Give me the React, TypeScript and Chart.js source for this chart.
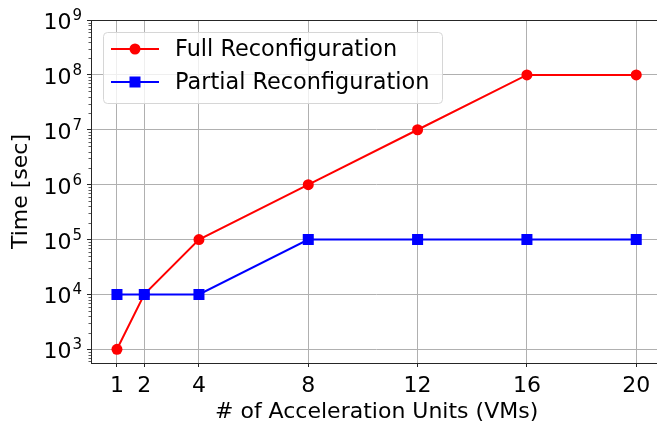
import React, { useEffect, useRef } from 'react';
import { Chart, registerables } from 'chart.js';

Chart.register(...registerables);

const units = [1, 2, 4, 8, 12, 16, 20];
const fullReconfig = [1e3, 1e4, 1e5, 1e6, 1e7, 1e8, 1e8];
const partialReconfig = [1e4, 1e4, 1e4, 1e5, 1e5, 1e5, 1e5];
const xTicks = [1, 2, 4, 8, 12, 16, 20];
const yTicks = [1e3, 1e4, 1e5, 1e6, 1e7, 1e8, 1e9];
const seriesLabels = ['Full Reconfiguration', 'Partial Reconfiguration'];
const xTitle = '# of Acceleration Units (VMs)';
const yTitle = 'Time [sec]';

const FONT = "'DejaVu Sans', sans-serif";
const FS = 22;

const framePlugin = {
  id: 'frame',
  afterDraw(chart: any) {
    const { ctx, chartArea: a, scales } = chart;
    const y = scales.y;
    ctx.save();
    // minor ticks on y
    ctx.strokeStyle = '#333';
    ctx.lineWidth = 0.8;
    for (let e = 2; e <= 9; e++) {
      for (let k = 2; k <= 9; k++) {
        const v = k * Math.pow(10, e);
        if (v < y.min || v > y.max) continue;
        const py = Math.round(y.getPixelForValue(v)) + 0.5;
        ctx.beginPath();
        ctx.moveTo(a.left, py);
        ctx.lineTo(a.left - 2.5, py);
        ctx.stroke();
      }
    }
    // y tick labels: 10 with superscript exponent
    ctx.fillStyle = '#000';
    ctx.textBaseline = 'alphabetic';
    yTicks.forEach((v) => {
      const py = y.getPixelForValue(v);
      const exp = String(Math.round(Math.log10(v)));
      ctx.font = `${Math.round(FS * 0.7)}px ${FONT}`;
      const ew = ctx.measureText(exp).width;
      const right = a.left - 9;
      ctx.textAlign = 'left';
      ctx.fillText(exp, right - ew, py);
      ctx.font = `${FS}px ${FONT}`;
      ctx.textAlign = 'right';
      ctx.fillText('10', right - ew - 1, py + 9);
    });
    // frame
    ctx.strokeStyle = '#262626';
    ctx.lineWidth = 1;
    ctx.strokeRect(Math.round(a.left) + 0.5, Math.round(a.top) + 0.5, Math.round(a.right - a.left), Math.round(a.bottom - a.top));
    // legend
    const lx = a.left + 12;
    const ly = a.top + 12;
    const lw = 339;
    const lh = 71;
    ctx.fillStyle = 'rgba(255,255,255,0.8)';
    ctx.strokeStyle = '#d6d6d6';
    ctx.lineWidth = 1;
    ctx.beginPath();
    (ctx as any).roundRect(lx + 0.5, ly + 0.5, lw, lh, 4);
    ctx.fill();
    ctx.stroke();
    chart.data.datasets.forEach((ds: any, i: number) => {
      const cy = ly + 17 + i * 33;
      ctx.strokeStyle = ds.borderColor;
      ctx.lineWidth = 2;
      ctx.beginPath();
      ctx.moveTo(lx + 8, cy);
      ctx.lineTo(lx + 56, cy);
      ctx.stroke();
      ctx.fillStyle = ds.backgroundColor;
      const mx = lx + 32;
      if (ds.pointStyle === 'rect') {
        ctx.fillRect(mx - 5.5, cy - 5.5, 11, 11);
      } else {
        ctx.beginPath();
        ctx.arc(mx, cy, 5.5, 0, Math.PI * 2);
        ctx.fill();
      }
      ctx.fillStyle = '#000';
      ctx.font = `${FS + 0.4}px ${FONT}`;
      ctx.textBaseline = 'middle';
      ctx.textAlign = 'left';
      ctx.fillText(ds.label, lx + 72, cy + 1);
    });
    ctx.restore();
  },
};

export default function App() {
  const ref = useRef<HTMLCanvasElement>(null);
  useEffect(() => {
    if (!ref.current) return;
    const chart = new Chart(ref.current, {
      type: 'line',
      data: {
        datasets: [
          {
            label: seriesLabels[0],
            data: units.map((u, i) => ({ x: u, y: fullReconfig[i] })),
            borderColor: '#ff0000',
            backgroundColor: '#ff0000',
            pointStyle: 'circle',
            pointRadius: 5.5,
            pointHoverRadius: 5.5,
            borderWidth: 2,
            pointBorderWidth: 0,
            order: 1,
          },
          {
            label: seriesLabels[1],
            data: units.map((u, i) => ({ x: u, y: partialReconfig[i] })),
            borderColor: '#0000ff',
            backgroundColor: '#0000ff',
            pointStyle: 'rect',
            pointRadius: 7.8,
            pointHoverRadius: 7.8,
            borderWidth: 2,
            pointBorderWidth: 0,
            order: 0,
          },
        ],
      },
      options: {
        responsive: false,
        animation: false,
        layout: { padding: { top: 20, right: 7, left: 0, bottom: 0 } },
        plugins: { legend: { display: false }, tooltip: { enabled: false } },
        scales: {
          x: {
            type: 'linear',
            min: 0.05,
            max: 20.95,
            afterBuildTicks: (s: any) => {
              s.ticks = xTicks.map((v) => ({ value: v }));
            },
            afterFit: (s: any) => {
              s.height = 65;
            },
            ticks: {
              font: { family: FONT, size: FS },
              color: '#000',
              padding: 6,
              maxRotation: 0,
              autoSkip: false,
              callback: (v: any) => String(v),
            },
            grid: { color: '#b0b0b0', lineWidth: 1, tickColor: '#262626', tickLength: 4 },
            border: { display: false },
            title: {
              display: true,
              text: xTitle,
              font: { family: FONT, size: FS },
              color: '#000',
              padding: { top: 0, bottom: 3 },
            },
          },
          y: {
            type: 'logarithmic',
            min: Math.pow(10, 2.75),
            max: 1e9,
            afterBuildTicks: (s: any) => {
              s.ticks = yTicks.map((v) => ({ value: v, major: true }));
            },
            afterFit: (s: any) => {
              s.width = 91;
            },
            ticks: {
              font: { family: FONT, size: FS },
              color: '#000',
              padding: 3,
              autoSkip: false,
              callback: () => '',
            },
            grid: { color: '#b0b0b0', lineWidth: 1, tickColor: '#262626', tickLength: 4 },
            border: { display: false },
            title: {
              display: true,
              text: yTitle,
              font: { family: FONT, size: FS },
              color: '#000',
              padding: { top: 8, bottom: 0 },
            },
          },
        },
      },
      plugins: [framePlugin],
    });
    return () => chart.destroy();
  }, []);
  return (
    <div style={{ position: 'fixed', left: 0, top: 0, width: 657, height: 428, overflow: 'hidden', background: '#fff' }}>
      <canvas ref={ref} width={670} height={428} style={{ width: 670, height: 428, display: 'block' }} />
    </div>
  );
}
